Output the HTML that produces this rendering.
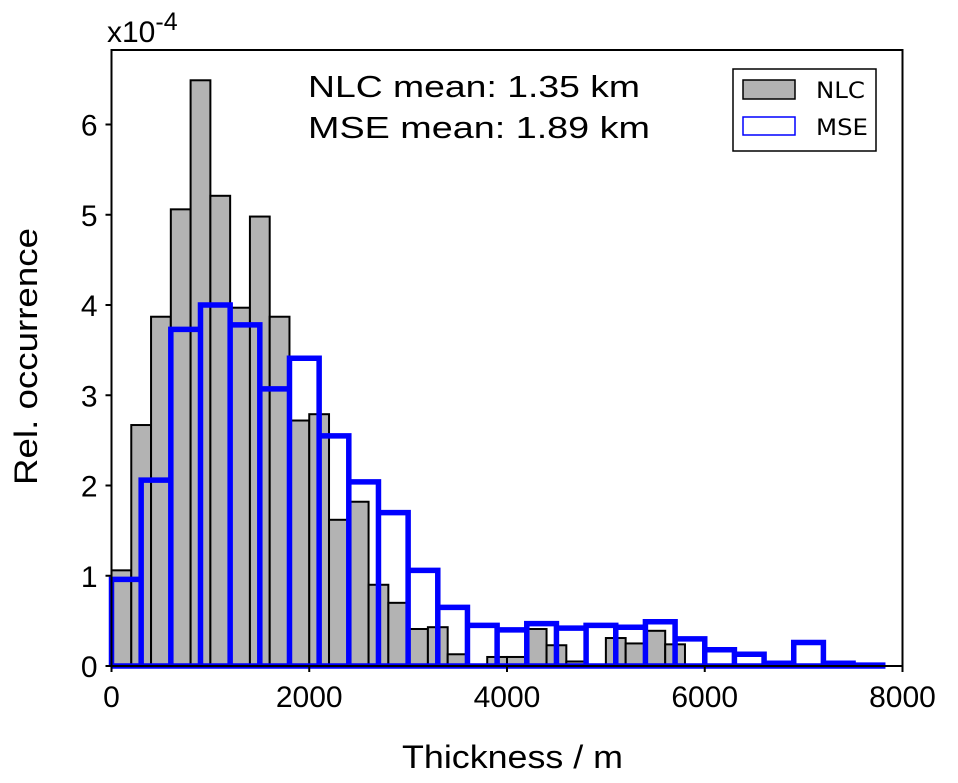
<!DOCTYPE html>
<html><head><meta charset="utf-8"><style>
body{margin:0;background:#fff;}
svg{display:block;font-family:"Liberation Sans",sans-serif;}
</style></head><body>
<svg id="chart" width="958" height="783"></svg>
<script>
const nlcEdgesStart = 0;
const nlcBinWidth = 200;
const nlcValues = [1.06,2.67,3.87,5.06,6.49,5.21,3.97,4.98,3.87,2.72,2.79,1.62,1.82,0.9,0.7,0.41,0.43,0.13,0,0.1,0.1,0.41,0.23,0.05,0,0.31,0.25,0.39,0.24];
const mseBinWidth = 300;
const mseValues = [0.96,2.06,3.73,4.0,3.78,3.07,3.41,2.55,2.04,1.7,1.06,0.65,0.45,0.4,0.47,0.42,0.45,0.43,0.49,0.3,0.18,0.13,0.03,0.26,0.03,0.01];
const xTicks = [0,2000,4000,6000,8000];
const yTicks = [0,1,2,3,4,5,6];

const L=111.5,R=902.5,T=50,B=666;
const xs = v => L + v/8000*(R-L);
const ys = v => B - v*90.25;
const svg=document.getElementById('chart');
const NS='http://www.w3.org/2000/svg';
function mk(tag,attrs,parent){const e=document.createElementNS(NS,tag);for(const k in attrs)e.setAttribute(k,attrs[k]);(parent||svg).appendChild(e);return e;}

const gN=mk('g',{});


nlcValues.forEach((v,i)=>{
  if(v<=0)return;
  const x0=xs(nlcEdgesStart+i*nlcBinWidth),x1=xs(nlcEdgesStart+(i+1)*nlcBinWidth);
  const r=mk('rect',{x:x0,y:ys(v),width:x1-x0,height:B-ys(v),fill:'#b3b3b3',stroke:'#000','stroke-width':2},gN);
  
  
});
let d='M'+xs(0)+' '+B;
mseValues.forEach((v,i)=>{
  d+=' L'+xs(i*mseBinWidth)+' '+ys(v)+' L'+xs((i+1)*mseBinWidth)+' '+ys(v)+' L'+xs((i+1)*mseBinWidth)+' '+B;
});
d+=' L'+xs(0)+' '+B;
const p=mk('path',{d:d,fill:'none',stroke:'#0000ff','stroke-width':5.5,'stroke-linejoin':'miter'});



const frame=mk('rect',{x:L,y:T,width:R-L,height:B-T,fill:'none',stroke:'#000','stroke-width':2});



xTicks.forEach(t=>{
  const ln=mk('line',{x1:xs(t),x2:xs(t),y1:B,y2:B+6,stroke:'#000','stroke-width':2});
  
  
  const tx=mk('text',{x:xs(t),y:B+41,'font-size':30,'text-anchor':'middle'});
  tx.textContent=t;
  
  
});
yTicks.forEach(t=>{
  const ln=mk('line',{x1:L-6,x2:L,y1:ys(t),y2:ys(t),stroke:'#000','stroke-width':2});
  
  
  const tx=mk('text',{x:L-14,y:ys(t)+11,'font-size':30,'text-anchor':'end'});
  tx.textContent=t;
  
  
});
</script>
<script>
(function(){
const svg=document.getElementById('chart');
svg.insertAdjacentHTML('beforeend',`
<text x="107" y="42" font-size="30">x10<tspan dy="-12" font-size="25">-4</tspan></text>
<text x="402" y="768" font-size="32" textLength="221" lengthAdjust="spacingAndGlyphs">Thickness / m</text>
<text transform="translate(37,485) rotate(-90)" font-size="32" textLength="257" lengthAdjust="spacingAndGlyphs">Rel. occurrence</text>
<text x="308" y="97" font-size="31" textLength="332" lengthAdjust="spacingAndGlyphs">NLC mean: 1.35 km</text>
<text x="308" y="138" font-size="31" textLength="342" lengthAdjust="spacingAndGlyphs">MSE mean: 1.89 km</text>
<g>
<rect x="733" y="69" width="143" height="82" fill="#fff" stroke="#000" stroke-width="1.5"/>
<rect x="743" y="80" width="52" height="19" fill="#b3b3b3" stroke="#000" stroke-width="1.5"/>
<text x="816" y="98" font-size="22" font-family="DejaVu Sans,sans-serif" textLength="49" lengthAdjust="spacingAndGlyphs">NLC</text>
<rect x="743" y="117" width="52" height="18" fill="#fff" stroke="#0000ff" stroke-width="1.5"/>
<text x="816" y="135" font-size="22" font-family="DejaVu Sans,sans-serif" textLength="52" lengthAdjust="spacingAndGlyphs">MSE</text>
</g>`);
})();
</script>
</body></html>
